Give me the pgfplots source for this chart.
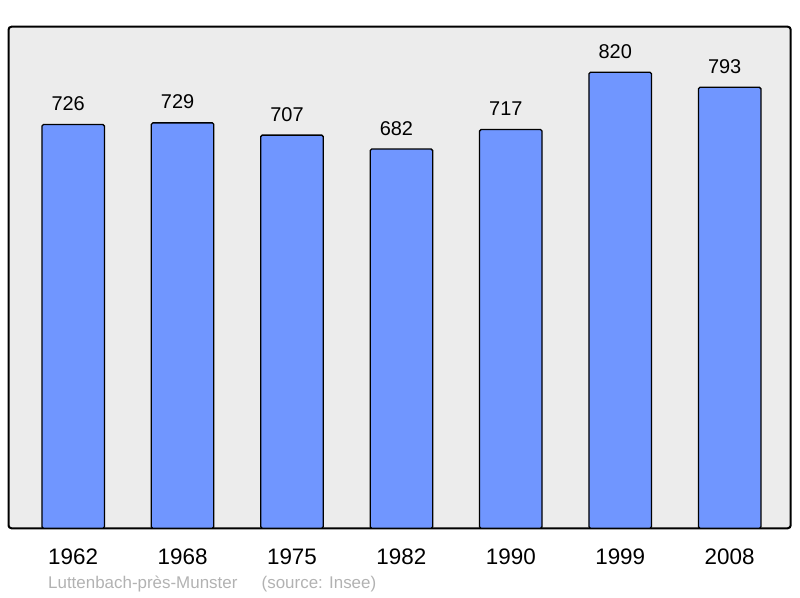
\documentclass[border=0pt]{standalone}
\usepackage{pgfplots}
\pgfplotsset{compat=1.18}
\usepackage{fontspec}
\setmainfont{Liberation Sans}
\definecolor{barblue}{RGB}{112,150,255}
\definecolor{bggray}{RGB}{236,236,236}
\definecolor{srcgray}{RGB}{178,178,178}

\begin{document}
\begin{tikzpicture}[x=1bp,y=1bp]
\useasboundingbox (0,0) rectangle (800,598);
\begin{axis}[
    at={(8.5bp,69.7bp)}, anchor=south west,
    scale only axis,
    width=782.2bp, height=501.6bp,
    ybar, bar width=62.5bp,
    ymin=0, ymax=902,
    xmin=-0.591, xmax=6.558,
    xtick=data,
    xticklabels={1962,1968,1975,1982,1990,1999,2008},
    ytick=\empty,
    major tick length=0pt,
    axis background/.style={fill=bggray},
    axis line style={line width=2bp, rounded corners=3bp},
    /pgf/number format/assume math mode=true,
    xticklabel style={font=\fontsize{22.5}{22.5}\selectfont, anchor=base, yshift=-36.7bp},
    nodes near coords,
    every node near coord/.append style={font=\fontsize{20}{20}\selectfont, anchor=base, xshift=-5bp, yshift=14bp},
]
\addplot[fill=barblue, draw=black, line width=1.3bp, rounded corners=1.5bp] coordinates {
    (0,726) (1,729) (2,707) (3,682) (4,717) (5,820) (6,793)
};
\end{axis}
\node[anchor=base west, inner sep=0, text=srcgray, font=\fontsize{17}{17}\selectfont] at (48bp,9bp) {Luttenbach-près-Munster};
\node[anchor=base west, inner sep=0, text=srcgray, font=\fontsize{17}{17}\selectfont] at (261.5bp,9bp) {(source: Insee)};
\end{tikzpicture}
\end{document}
